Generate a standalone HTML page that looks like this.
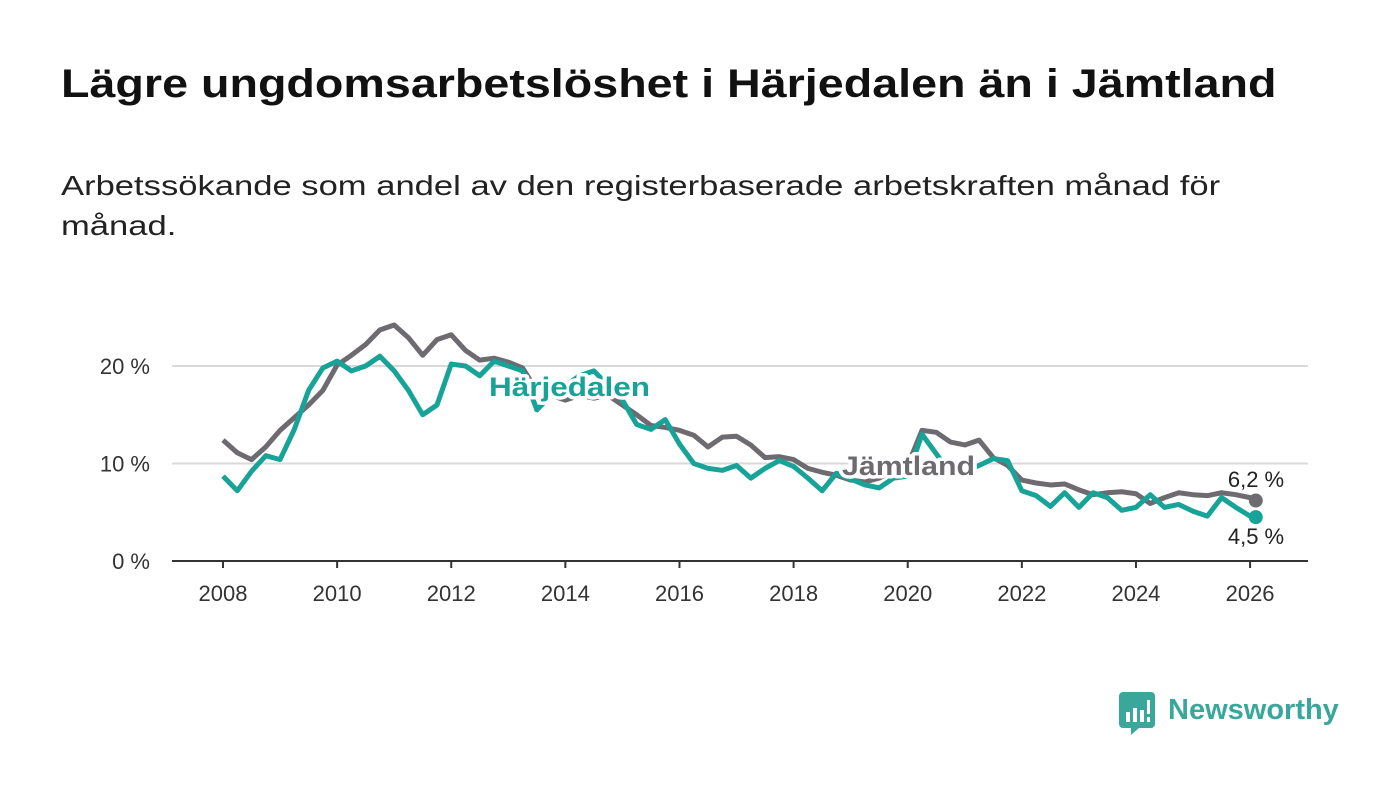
<!DOCTYPE html>
<html><head><meta charset="utf-8"><style>
body{margin:0;width:1400px;height:794px;background:#fff;font-family:"Liberation Sans","DejaVu Sans",sans-serif;overflow:hidden;position:relative}
h1{position:absolute;left:61px;top:62px;margin:0;font-size:40px;font-weight:bold;color:#111;white-space:nowrap;transform:scaleX(1.166);transform-origin:left top}
.sub{position:absolute;left:61px;top:166px;margin:0;font-size:28px;line-height:40px;color:#222;white-space:nowrap;transform:scaleX(1.235);transform-origin:left top}
svg{position:absolute;left:0;top:0}
</style></head><body>
<h1>Lägre ungdomsarbetslöshet i Härjedalen än i Jämtland</h1>
<p class="sub">Arbetssökande som andel av den registerbaserade arbetskraften månad för<br>månad.</p>
<svg id="chart" width="1400" height="794"></svg>
<div style="position:absolute;left:1119px;top:692px;">
<svg width="36" height="44" style="position:static"><path d="M4 0h28a4 4 0 0 1 4 4v28a4 4 0 0 1-4 4H20l-8 7v-7H4a4 4 0 0 1-4-4V4a4 4 0 0 1 4-4z" fill="#3aa79b"/><rect x="7" y="20" width="4" height="10" fill="#fff"/><rect x="14" y="16" width="4" height="14" fill="#fff"/><rect x="21" y="18" width="4" height="12" fill="#fff"/><rect x="28" y="8" width="3" height="14" fill="#fff"/><rect x="28" y="25" width="3" height="5" fill="#fff"/></svg>
<span style="position:absolute;left:49px;top:2px;font-size:29px;font-weight:bold;color:#3aa79b;white-space:nowrap">Newsworthy</span></div>
<script>
const startYear = 2008;
const jamtland = [12.4,11.1,10.4,11.7, 13.4,14.7,16,17.5, 20.1,21.1,22.2,23.7, 24.2,22.9,21.1,22.7, 23.2,21.6,20.6,20.8, 20.4,19.8,17.5,17, 16.5,17,16.7,17, 16,15,13.9,13.7, 13.4,12.9,11.7,12.7, 12.8,11.9,10.6,10.7, 10.4,9.5,9.1,8.8, 8.3,8.1,8.5,9.3, 9.8,13.4,13.2,12.2, 11.9,12.4,10.6,9.8, 8.3,8,7.8,7.9, 7.3,6.8,7,7.1, 6.9,5.9,6.5,7, 6.8,6.7,7,6.8, 6.5];
const harjedalen = [8.7,7.2,9.2,10.8, 10.4,13.5,17.5,19.8, 20.5,19.5,20,21, 19.5,17.5,15,16, 20.2,20,19,20.5, 20,19.5,15.5,17, 18,19,19.5,18, 16.5,14,13.5,14.5, 12,10,9.5,9.3, 9.8,8.5,9.5,10.3, 9.7,8.5,7.2,9, 8.4,7.8,7.5,8.5, 8.7,13,11,9, 9.2,9.8,10.5,10.3, 7.2,6.7,5.6,7, 5.5,7,6.5,5.2, 5.5,6.8,5.5,5.8, 5.1,4.6,6.5,5.5, 4.6];
const lastYear = 2026.1;
const lastJamtland = 6.2;
const lastHarjedalen = 4.5;
const yTicks = [0,10,20];
const xTicks = [2008,2010,2012,2014,2016,2018,2020,2022,2024,2026];

const NS="http://www.w3.org/2000/svg";
const svg=document.getElementById('chart');
const x=v=>223+(v-2008)*57.06;
const y=v=>561-v*9.75;
function mk(t,a){const e=document.createElementNS(NS,t);for(const k in a)e.setAttribute(k,a[k]);svg.appendChild(e);return e;}
yTicks.forEach(t=>{
  if(t>0){const g=mk('line',{x1:172,x2:1308,y1:y(t),y2:y(t),stroke:'#d9d9d9','stroke-width':2});
  
  }
  const l=mk('text',{x:150,y:y(t)+8,'text-anchor':'end','font-size':22,fill:'#333'});
  l.textContent=t+' %';
  
  
});
const ax=mk('line',{x1:172,x2:1308,y1:561,y2:561,stroke:'#333','stroke-width':2});


xTicks.forEach(t=>{
  const tk=mk('line',{x1:x(t),x2:x(t),y1:561,y2:568,stroke:'#333','stroke-width':2});
  
  
  const l=mk('text',{x:x(t),y:601,'text-anchor':'middle','font-size':22,fill:'#333'});
  l.textContent=t;
  
  
});
function pts(arr,lv){const p=arr.map((v,i)=>x(startYear+i*0.25)+','+y(v));p.push(x(lastYear)+','+y(lv));return p.join(' ');}
const lj=mk('polyline',{points:pts(jamtland,lastJamtland),fill:'none',stroke:'#6e6b70','stroke-width':5,'stroke-linejoin':'round'});


const lh=mk('polyline',{points:pts(harjedalen,lastHarjedalen),fill:'none',stroke:'#17a398','stroke-width':5,'stroke-linejoin':'round'});


const dj=mk('circle',{cx:x(lastYear),cy:y(lastJamtland),r:7,fill:'#6e6b70'});


const dh=mk('circle',{cx:x(lastYear),cy:y(lastHarjedalen),r:7,fill:'#17a398'});


function lab(txt,xx,yy,col,name,bold,anchor,len){
  const a={x:xx,y:yy,'font-size':bold?27:22,'font-weight':bold?'bold':'normal',fill:col,stroke:'#fff','stroke-width':bold?7:5,'paint-order':'stroke','stroke-linejoin':'round','text-anchor':anchor||'start'};
  if(len){a.textLength=len;a.lengthAdjust='spacingAndGlyphs';}
  const t=mk('text',a);
  t.textContent=txt;
  
  
}
lab('Härjedalen',489,396,'#17a398','harjedalen-label',true,'start',161);
lab('Jämtland',842,475,'#6e6b70','jamtland-label',true,'start',133);
lab(String(lastJamtland).replace('.',',')+' %',1256,487,'#222','jamtland-value-label',false,'middle');
lab(String(lastHarjedalen).replace('.',',')+' %',1256,544,'#222','harjedalen-value-label',false,'middle');
</script>
</body></html>
